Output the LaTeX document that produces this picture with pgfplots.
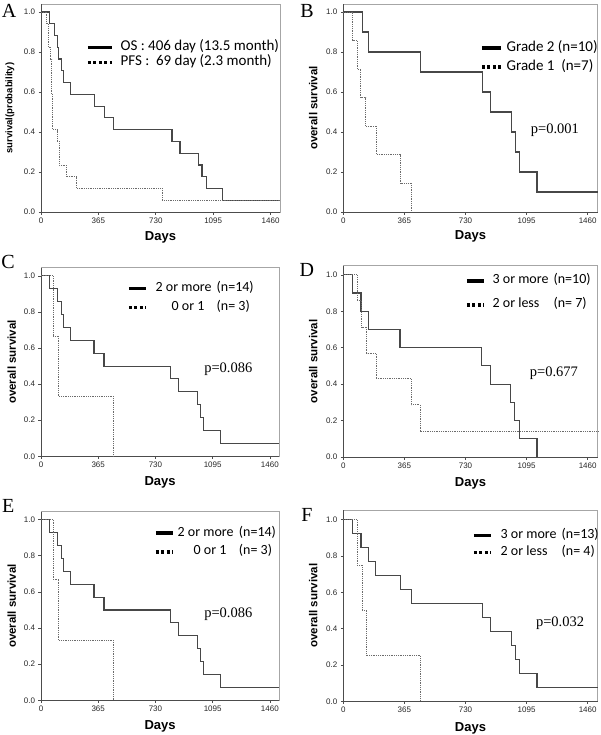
\documentclass[border=0pt]{standalone}
\usepackage{pgfplots}
\pgfplotsset{compat=1.18}
\usepackage{fontspec}
\setmainfont{Liberation Sans}
\newfontfamily\carl{Carlito}
\newfontfamily\tms{Liberation Serif}

\pgfplotsset{
  km/.style={
    scale only axis, xmin=0, xmax=1520, ymin=0,
    axis lines=left, axis line style={-, draw=black!70, line width=0.8pt},
    axis background/.style={draw=black!35, line width=0.8pt},
    xtick={0,365,730,1095,1460}, ytick={0,0.2,0.4,0.6,0.8,1},
    /pgf/number format/assume math mode=true,
    yticklabel style={/pgf/number format/.cd, fixed, fixed zerofill, precision=1},
    xticklabel style={/pgf/number format/.cd, fixed, 1000 sep={}},
    tick align=outside, major tick length=2.5pt,
    every tick/.style={black!70, line width=0.6pt},
    tick label style={font=\fontsize{8}{8}\selectfont, text=black!85},
    xlabel={Days},
    xlabel style={font=\bfseries\fontsize{13}{13}\selectfont, at={(axis description cs:0.5,0)}, anchor=center},
    ylabel style={font=\bfseries\fontsize{11.5}{12}\selectfont, anchor=center},
    legend style={draw=none, fill=none, font=\carl\fontsize{14}{14}\selectfont,
      anchor=north west, inner sep=0pt,
      nodes={inner sep=0pt, text height=8pt, text depth=2pt}, column sep=7pt},
    legend cell align=left,
    legend image code/.code={\draw[##1] (0pt,0pt) -- (17pt,0pt);},
    clip=false,
  },
  solidc/.style={black!72, line width=1.1pt, const plot, forget plot},
  dotc/.style={black!58, line width=0.8pt, densely dotted, const plot, forget plot},
  legsolid/.style={black, line width=3.5pt},
  legdot/.style={black, line width=3.5pt, dash pattern=on 3pt off 2.5pt},
}
\newcommand{\pval}[3]{\node[font=\tms\fontsize{14.5}{15}\selectfont] at (rel axis cs:#1,#2) {#3};}
\newcommand{\plab}[3]{\node[font=\tms\fontsize{20}{20}\selectfont] at (rel axis cs:#1,#2) {#3};}

\begin{document}
\begin{tikzpicture}
\useasboundingbox (0pt,0pt) rectangle (600pt,-735pt);

% A
\begin{axis}[km, at={(41pt,-212pt)}, anchor=south west, width=239pt, height=208pt, ymax=1.04,
  ylabel={survival(probability)},
  ylabel style={at={(axis description cs:-0.13,0.5)}, font=\bfseries\fontsize{9.5}{10}\selectfont},
  xlabel style={yshift=-25pt},
  legend style={at={(0.188,0.817)}, row sep=5pt, font=\carl\fontsize{15}{15}\selectfont},
  legend image code/.code={\draw[#1] (0pt,0pt) -- (24pt,0pt);}]
\addplot[solidc] coordinates {(0,1)(53,0.941)(83,0.882)(104,0.824)(112,0.765)(133,0.706)(142,0.647)(189,0.588)(341,0.529)(405,0.471)(460,0.412)(833,0.353)(884,0.294)(1004,0.235)(1024,0.176)(1053,0.118)(1155,0.059)(1520,0.059)};
\addplot[dotc] coordinates {(0,1)(36,0.941)(47,0.824)(61,0.765)(68,0.588)(74,0.412)(104,0.353)(117,0.235)(159,0.176)(227,0.118)(769,0.059)(1520,0.059)};
\addlegendimage{legsolid}\addlegendentry{OS : 406 day (13.5 month)}
\addlegendimage{legdot}\addlegendentry{PFS :\ \ 69 day (2.3 month)}
\plab{-0.134}{0.966}{A}
\end{axis}

% B
\begin{axis}[km, at={(343.3pt,-212pt)}, anchor=south west, width=254.4pt, height=208pt, ymax=1.04,
  ylabel={overall survival},
  ylabel style={at={(axis description cs:-0.118,0.5)}},
  xlabel style={yshift=-24.7pt},
  legend style={at={(0.537,0.8125)}, row sep=9pt, column sep=4pt, font=\carl\fontsize{15}{15}\selectfont},
  legend image code/.code={\draw[#1] (0pt,0pt) -- (19pt,0pt);}]
\addplot[solidc] coordinates {(0,1)(114,0.9)(150,0.8)(463,0.7)(834,0.6)(881,0.5)(1007,0.4)(1027,0.3)(1051,0.2)(1157,0.1)(1520,0.1)};
\addplot[dotc] coordinates {(0,1)(56,0.857)(84,0.714)(104,0.571)(134,0.429)(199,0.286)(343,0.143)(407,0)};
\addlegendimage{legsolid}\addlegendentry{Grade 2 (n=10)}
\addlegendimage{legdot}\addlegendentry{Grade 1\ \ (n=7)}
\pval{0.832}{0.394}{p=0.001}
\plab{-0.143}{0.966}{B}
\end{axis}

% C
\begin{axis}[km, at={(41pt,-456.3pt)}, anchor=south west, width=238.3pt, height=188.6pt, ymax=1.045,
  ylabel={overall survival},
  ylabel style={at={(axis description cs:-0.123,0.5)}},
  xlabel style={yshift=-26pt},
  legend style={at={(0.361,0.917)}, row sep=9pt, column sep=8pt}]
\addplot[solidc] coordinates {(0,1)(53,0.929)(104,0.857)(132,0.786)(142,0.714)(189,0.643)(338,0.571)(402,0.5)(827,0.429)(876,0.357)(1001,0.286)(1018,0.214)(1039,0.143)(1146,0.071)(1520,0.071)};
\addplot[dotc] coordinates {(0,1)(79,0.667)(110,0.333)(461,0)};
\addlegendimage{legsolid}\addlegendentry{\makebox[61pt][l]{2 or more}(n=14)}
\addlegendimage{legdot}\addlegendentry{\makebox[61pt][l]{\hspace{16pt}0 or 1}(n= 3)}
\pval{0.786}{0.463}{p=0.086}
\plab{-0.138}{1.03}{C}
\end{axis}

% D
\begin{axis}[km, at={(343.3pt,-457pt)}, anchor=south west, width=254.4pt, height=191.3pt, ymax=1.05,
  ylabel={overall survival},
  ylabel style={at={(axis description cs:-0.118,0.5)}},
  xlabel style={yshift=-26.3pt},
  legend style={at={(0.478,0.948)}, row sep=14pt, column sep=7pt}]
\addplot[solidc] coordinates {(0,1)(54,0.9)(106,0.8)(150,0.7)(339,0.6)(828,0.5)(878,0.4)(1001,0.3)(1023,0.2)(1051,0.1)(1157,0)};
\addplot[dotc] coordinates {(0,1)(84,0.857)(110,0.714)(140,0.571)(195,0.429)(407,0.286)(459,0.143)(1520,0.143)};
\addlegendimage{legsolid}\addlegendentry{\makebox[61pt][l]{3 or more}(n=10)}
\addlegendimage{legdot}\addlegendentry{\makebox[61pt][l]{2 or less}(n= 7)}
\pval{0.828}{0.4375}{p=0.677}
\plab{-0.143}{0.977}{D}
\end{axis}

% E
\begin{axis}[km, at={(41pt,-700.3pt)}, anchor=south west, width=238.3pt, height=188.6pt, ymax=1.044,
  ylabel={overall survival},
  ylabel style={at={(axis description cs:-0.123,0.5)}},
  xlabel style={yshift=-26.4pt},
  legend style={at={(0.474,0.914)}, row sep=8.7pt, column sep=3pt}]
\addplot[solidc] coordinates {(0,1)(53,0.929)(104,0.857)(132,0.786)(142,0.714)(189,0.643)(338,0.571)(402,0.5)(827,0.429)(876,0.357)(1001,0.286)(1018,0.214)(1039,0.143)(1146,0.071)(1520,0.071)};
\addplot[dotc] coordinates {(0,1)(79,0.667)(110,0.333)(461,0)};
\addlegendimage{legsolid}\addlegendentry{\makebox[61.3pt][l]{2 or more}(n=14)}
\addlegendimage{legdot}\addlegendentry{\makebox[61.3pt][l]{\hspace{16pt}0 or 1}(n= 3)}
\pval{0.786}{0.458}{p=0.086}
\plab{-0.138}{1.032}{E}
\end{axis}

% F
\begin{axis}[km, at={(343.3pt,-701.3pt)}, anchor=south west, width=254.4pt, height=191.3pt, ymax=1.053,
  ylabel={overall survival},
  ylabel style={at={(axis description cs:-0.118,0.5)}},
  xlabel style={yshift=-27pt},
  legend style={at={(0.506,0.895)}, row sep=7.3pt, column sep=8pt}]
\addplot[solidc] coordinates {(0,1)(54,0.923)(106,0.846)(150,0.769)(195,0.692)(343,0.615)(409,0.538)(832,0.462)(882,0.385)(1005,0.308)(1027,0.231)(1053,0.154)(1157,0.077)(1520,0.077)};
\addplot[dotc] coordinates {(0,1)(84,0.75)(114,0.5)(140,0.25)(463,0)};
\addlegendimage{legsolid}\addlegendentry{\makebox[61pt][l]{3 or more}(n=13)}
\addlegendimage{legdot}\addlegendentry{\makebox[61pt][l]{2 or less}(n= 4)}
\pval{0.852}{0.408}{p=0.032}
\plab{-0.143}{0.974}{F}
\end{axis}
\end{tikzpicture}
\end{document}
